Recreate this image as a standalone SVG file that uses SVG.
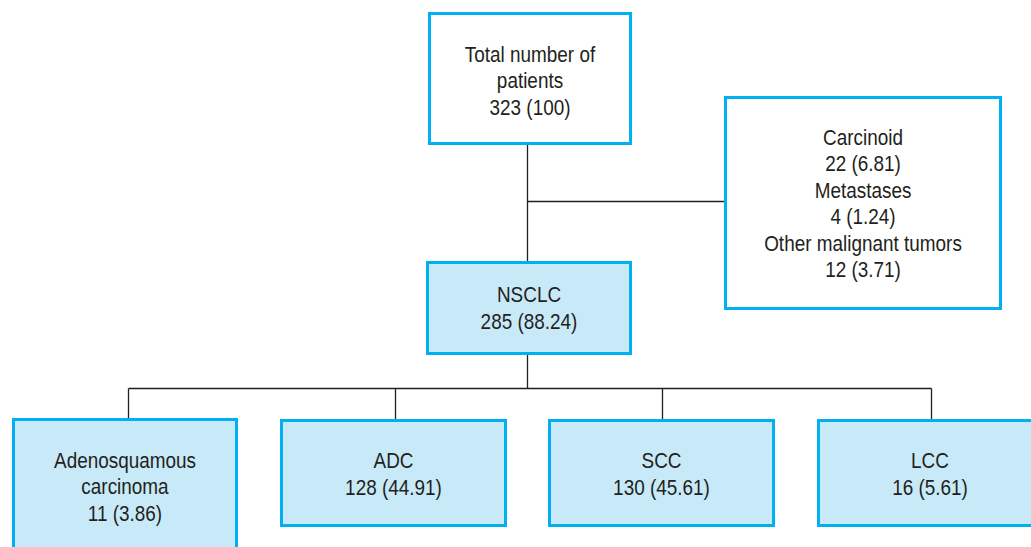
<svg xmlns="http://www.w3.org/2000/svg" width="1031" height="547" viewBox="0 0 1031 547">
<style>
.box{stroke:#00B0F0;stroke-width:3}
.w{fill:#FFFFFF}
.b{fill:#C8E9F8}
.t{font-family:"Liberation Sans",Arial,sans-serif;font-size:21.5px;fill:#231F20;text-anchor:middle}
.c{stroke:#231F20;stroke-width:1.3;fill:none}
</style>
<rect width="1031" height="547" fill="#FFFFFF"/>
<g id="connectors">
<path class="c" d="M527.5 144V262M527.5 201.5H725M527.5 354V388.5M128.5 388.5H931.5M128.5 388.5V419M395.5 388.5V420M662.5 388.5V420M931.5 388.5V420"/>
</g>
<g id="total">
<rect class="box w" x="429.5" y="13.5" width="201" height="130"/>
<text class="t" transform="matrix(0.88 0 0 1 530 61.5)">Total number of</text>
<text class="t" transform="matrix(0.88 0 0 1 530 88.2)">patients</text>
<text class="t" transform="matrix(0.88 0 0 1 530 115)">323 (100)</text>
</g>
<g id="other">
<rect class="box w" x="725.5" y="97.5" width="275" height="211"/>
<text class="t" transform="matrix(0.88 0 0 1 863 144.5)">Carcinoid</text>
<text class="t" transform="matrix(0.88 0 0 1 863 171)">22 (6.81)</text>
<text class="t" transform="matrix(0.88 0 0 1 863 197.5)">Metastases</text>
<text class="t" transform="matrix(0.88 0 0 1 863 224)">4 (1.24)</text>
<text class="t" transform="matrix(0.88 0 0 1 863 250.5)">Other malignant tumors</text>
<text class="t" transform="matrix(0.88 0 0 1 863 277)">12 (3.71)</text>
</g>
<g id="nsclc">
<rect class="box b" x="427.5" y="262.5" width="203" height="91"/>
<text class="t" transform="matrix(0.88 0 0 1 529 302)">NSCLC</text>
<text class="t" transform="matrix(0.88 0 0 1 529 329)">285 (88.24)</text>
</g>
<g id="adeno">
<rect class="box b" x="13.5" y="419.5" width="223" height="140"/>
<text class="t" transform="matrix(0.88 0 0 1 125 467.5)">Adenosquamous</text>
<text class="t" transform="matrix(0.88 0 0 1 125 494)">carcinoma</text>
<text class="t" transform="matrix(0.88 0 0 1 125 521)">11 (3.86)</text>
</g>
<g id="adc">
<rect class="box b" x="281.5" y="420.5" width="224" height="105"/>
<text class="t" transform="matrix(0.88 0 0 1 393.5 467.5)">ADC</text>
<text class="t" transform="matrix(0.88 0 0 1 393.5 494.5)">128 (44.91)</text>
</g>
<g id="scc">
<rect class="box b" x="549.5" y="420.5" width="224" height="105"/>
<text class="t" transform="matrix(0.88 0 0 1 661.5 467.5)">SCC</text>
<text class="t" transform="matrix(0.88 0 0 1 661.5 494.5)">130 (45.61)</text>
</g>
<g id="lcc">
<rect class="box b" x="818.5" y="420.5" width="224" height="105"/>
<text class="t" transform="matrix(0.88 0 0 1 930 467.5)">LCC</text>
<text class="t" transform="matrix(0.88 0 0 1 930 494.5)">16 (5.61)</text>
</g>
</svg>
